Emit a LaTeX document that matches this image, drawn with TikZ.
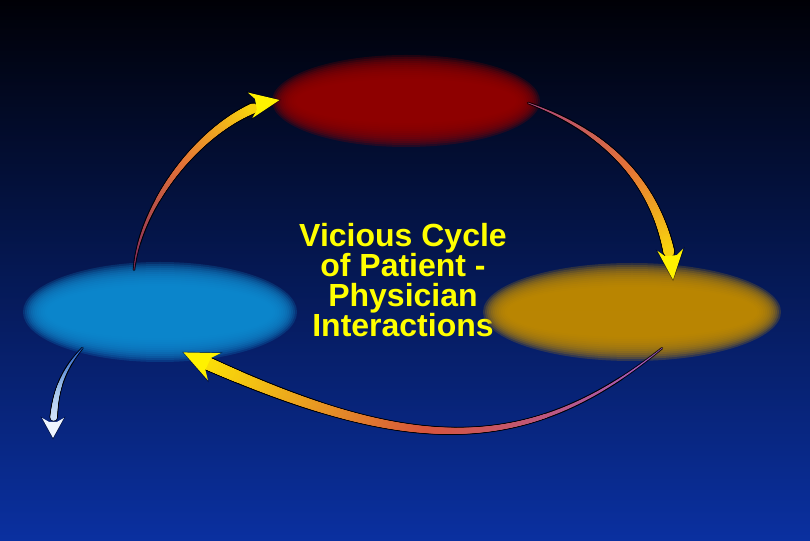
\documentclass[tikz,border=0pt]{standalone}
\usepackage{fontspec}
\setmainfont{Liberation Sans}
\usetikzlibrary{shapes.geometric,decorations.markings}

\definecolor{bgtop}{RGB}{0,0,6}
\definecolor{bgmid}{RGB}{0,28,112}
\definecolor{bgbot}{RGB}{10,48,160}
\definecolor{spotred}{RGB}{150,0,0}
\definecolor{spotblue}{RGB}{15,140,210}
\definecolor{spotgold}{RGB}{195,140,0}
\definecolor{tailplum}{RGB}{130,40,95}
\definecolor{tailpink}{RGB}{170,70,125}
\definecolor{tailviolet}{RGB}{160,90,200}
\definecolor{midorange}{RGB}{228,115,55}
\definecolor{midred}{RGB}{215,85,60}
\definecolor{headyellow}{RGB}{255,242,0}
\definecolor{tailsky}{RGB}{30,90,200}
\definecolor{midsky}{RGB}{160,195,235}
\definecolor{headwhite}{RGB}{238,245,255}
\definecolor{titleyellow}{RGB}{255,255,0}

\begin{document}
\begin{tikzpicture}[
  x=1pt, y=1pt,
  spot/.style={ellipse, inner sep=0pt},
  title/.style={text=titleyellow, font=\bfseries\fontsize{32}{30}\selectfont, align=center},
  % tapered arrow: tail colour, middle colour, head colour, shaft radius, head length, head half width
  swoosh/.style n args={6}{
    preaction={decorate, decoration={markings,
      mark=between positions 0 and -#5 step 0.5pt with {
        \pgfmathsetmacro\frc{\pgfkeysvalueof{/pgf/decoration/mark info/distance from start}/\pgfdecoratedpathlength}
        \pgfmathsetmacro\rad{0.4+(#4-0.4)*\frc}
        \fill[black, opacity=0.5] (0,0) circle (\rad+1);
      }}},
    preaction={decorate, decoration={markings,
      mark=at position 0.999 with {
        \fill[black, opacity=0.5] (1.5,0) -- (-#5-1.5pt,#6+1.5) -- (-0.8*#5,#4+1) -- (-0.8*#5,-#4-1) -- (-#5-1.5pt,-#6-1.5) -- cycle;
      }}},
    postaction={decorate, decoration={markings,
      mark=between positions 0 and -#5 step 0.5pt with {
        \pgfmathsetmacro\frc{\pgfkeysvalueof{/pgf/decoration/mark info/distance from start}/\pgfdecoratedpathlength}
        \pgfmathsetmacro\rad{0.4+(#4-0.4)*\frc}
        \pgfmathtruncatemacro\pc{200*\frc}
        \ifnum\pc<100 \def\col{#2!\pc!#1}\else \pgfmathtruncatemacro\pcb{min(\pc-100,100)}\edef\col{#3!\pcb!#2}\fi
        \fill[fill=\col] (0,0) circle (\rad);
      }}},
    postaction={decorate, decoration={markings,
      mark=at position 0.999 with {
        \fill[fill=#3] (0,0) -- (-#5,#6) -- (-0.8*#5,#4) -- (-0.8*#5,-#4) -- (-#5,-#6) -- cycle;
      }}}
  }
]

% background
\useasboundingbox (0,0) rectangle (810,540);
\shade[top color=bgtop, middle color=bgmid, bottom color=bgbot] (0,0) rectangle (810,540);

% nodes
\node[spot, minimum width=244pt, minimum height=68pt] (redspot) at (406,439) {};
\node[spot, minimum width=250pt, minimum height=76pt] (bluespot) at (160,228) {};
\node[spot, minimum width=274pt, minimum height=74pt] (goldspot) at (632,228) {};
\node[title] (cycle) at (403,260) {Vicious Cycle\\of Patient -\\Physician\\Interactions};
\coordinate (exit) at (53,102);

% soft spots
\foreach \spot/\col/\rx/\ry in {redspot/spotred/122/34, bluespot/spotblue/125/38, goldspot/spotgold/137/37}
  \foreach \d in {-12,-10,...,12}
    \fill[\col, opacity=0.22] (\spot.center) ellipse [x radius=\rx+\d, y radius=\ry+\d];

% arrows
\path[swoosh={tailplum}{midorange}{headyellow}{5.5}{30pt}{13}]
  ([xshift=-26pt,yshift=4pt]bluespot.north) to[out=85, in=190, looseness=0.8] ([xshift=-4pt,yshift=1pt]redspot.west);
\path[swoosh={tailpink}{midorange}{headyellow}{6}{30pt}{13}]
  ([yshift=-2pt]redspot.east) to[out=-20, in=95] ([xshift=41pt,yshift=-5pt]goldspot.north);
\path[swoosh={tailviolet}{midred}{headyellow}{6.5}{34pt}{15}]
  ([xshift=30pt,yshift=1pt]goldspot.south) to[out=219, in=-25, out looseness=0.95, in looseness=1.3] ([xshift=23pt,yshift=-2pt]bluespot.south);
\path[swoosh={tailsky}{midsky}{headwhite}{4}{20pt}{11}]
  ([xshift=11pt,yshift=-9pt]bluespot.south west) to[out=228, in=90] (exit);

\end{tikzpicture}
\end{document}
